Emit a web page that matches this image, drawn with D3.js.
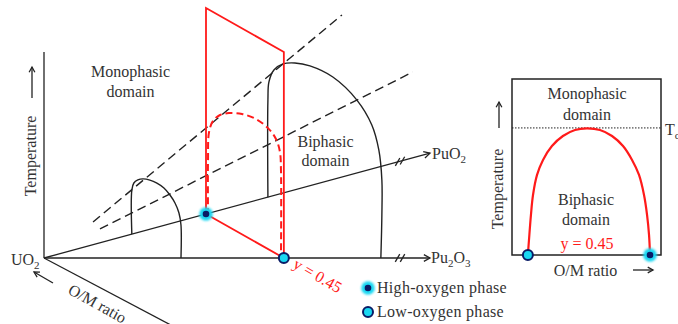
<!DOCTYPE html>
<html><head><meta charset="utf-8">
<script src="https://cdn.jsdelivr.net/npm/d3@7"></script>
<style>
html,body{margin:0;padding:0;background:#fff;}
svg{display:block;}
text{font-family:"Liberation Serif","Times New Roman",serif;fill:#333;}
</style>
</head><body>
<svg id="chart" width="678" height="324"></svg>
<script>
// ---- data ----
// Pu content of the isopleth section
const sectionY = 0.45;
// Pu content where each miscibility gap meets the Pu2O3 edge and the PuO2 edge
const gapSmallFeet = [0.257, 0.244];
const gapLargeFeet = [0.632, 0.622];
const gapSectionFeet = [sectionY, sectionY];
// gap outlines: [w, t]  (w: 0 on Pu2O3 edge, 1 on PuO2 edge; t: relative temperature 0..100)
const gapSmall = [[1,0],[1,21.4],[0.959,25.3],[0.878,27.7],[0.776,29.4],[0.633,30.5],[0.49,30.7],
  [0.347,30.0],[0.224,28.0],[0.122,25.3],[0.041,21.4],[0,16.0],[0,0]];
const gapLarge = [[1,0],[1,47.2],[0.991,56.2],[0.947,63.3],[0.867,68.6],[0.761,72.2],[0.628,74.7],
  [0.425,75.3],[0.212,70.4],[0.08,62.2],[0.018,51.9],[-0.009,38.1],[-0.009,21.1],[0,0]];
const gapSection = [[0.974,0],[0.974,26.7],[0.961,40.6],[0.91,47.1],[0.82,51.9],[0.705,55.3],
  [0.538,58.4],[0.358,59.8],[0.204,58.7],[0.101,55.6],[0.05,50.4],[0.037,41.9],[0.037,0]];
// critical-temperature guide lines: [u, t] on the Pu2O3 edge
const guideUpper = [[0.092,17.5],[0.559,118.0]];
const guideLower = [[0.105,14.1],[0.692,90.3]];
// section plane extends over the full temperature range
const sectionTop = 100;
// 2D section at y = 0.45: [O/M position, t]
const sectionGap = [[0,0],[0.009,8.5],[0.025,22.7],[0.042,34.1],[0.075,45.5],[0.124,54.0],[0.197,61.9],
  [0.287,67.6],[0.386,71.0],[0.484,71.9],[0.59,71.0],[0.689,67.6],[0.779,61.9],[0.853,54.0],
  [0.91,45.5],[0.951,34.1],[0.976,22.7],[0.992,11.4],[1,0]];
const criticalT = 72.2;
const legendItems = ["High-oxygen phase","Low-oxygen phase"];

// ---- style ----
const INK = "#222", RED = "#ff1a1a", CYAN = "#1ad8f2", NAVY = "#0a1c66";
const svg = d3.select("#chart");
const defs = svg.append("defs");
defs.append("filter").attr("id", "glow").attr("x", "-50%").attr("y", "-50%").attr("width", "200%").attr("height", "200%")
  .append("feGaussianBlur").attr("stdDeviation", 0.8);

// ---- prism projection ----
const origin = [44, 258];
const lowX = d3.scaleLinear().domain([0, 1]).range([44, 577]);     // UO2 -> Pu2O3 edge
const highX = d3.scaleLinear().domain([0, 1]).range([44, 404]);    // UO2 -> PuO2 edge
const highY = d3.scaleLinear().domain([0, 1]).range([258, 160.2]);
const tempH = d3.scaleLinear().domain([0, 100]).range([0, 206]);
const onLow = u => [lowX(u), origin[1]];
const onHigh = u => [highX(u), highY(u)];
function pt(uL, uH, w, t) {
  const a = onLow(uL), b = onHigh(uH);
  return [a[0] + (b[0] - a[0]) * w, a[1] + (b[1] - a[1]) * w - tempH(t)];
}
const smooth = d3.line().curve(d3.curveCatmullRom.alpha(0.5));

function arrow(g, x1, y1, x2, y2, head = 6, color = INK, sw = 1.3) {
  g.append("line").attr("x1", x1).attr("y1", y1).attr("x2", x2).attr("y2", y2)
    .attr("stroke", color).attr("stroke-width", sw);
  const a = Math.atan2(y2 - y1, x2 - x1), s = 0.5;
  const p1 = [x2 - head * Math.cos(a - s), y2 - head * Math.sin(a - s)];
  const p2 = [x2 - head * Math.cos(a + s), y2 - head * Math.sin(a + s)];
  g.append("path").attr("d", `M${p1}L${x2},${y2}L${p2}`).attr("fill", "none")
    .attr("stroke", color).attr("stroke-width", sw);
}
function breakMark(g, p, ang) {
  [-2.5, 2.5].forEach(o => {
    const cx = p[0] + o * Math.cos(ang), cy = p[1] + o * Math.sin(ang);
    const d = 60 * Math.PI / 180, L = 4.5;
    g.append("line").attr("x1", cx - L * Math.cos(d)).attr("y1", cy + L * Math.sin(d))
      .attr("x2", cx + L * Math.cos(d)).attr("y2", cy - L * Math.sin(d))
      .attr("stroke", INK).attr("stroke-width", 1.3);
  });
}

const g3 = svg.append("g");

// temperature axis
g3.append("line").attr("x1", origin[0]).attr("y1", origin[1])
  .attr("x2", origin[0]).attr("y2", origin[1] - tempH(100)).attr("stroke", INK).attr("stroke-width", 1.3);
// composition edges
const tipHigh = onHigh(highX.invert(430)), tipLow = onLow(lowX.invert(430));
arrow(g3, origin[0], origin[1], tipHigh[0], tipHigh[1], 7);
arrow(g3, origin[0], origin[1], tipLow[0], tipLow[1], 7);
breakMark(g3, onHigh(highX.invert(400)), Math.atan2(tipHigh[1] - origin[1], tipHigh[0] - origin[0]));
breakMark(g3, onLow(lowX.invert(400)), 0);
// O/M ratio direction
g3.append("line").attr("x1", origin[0]).attr("y1", origin[1])
  .attr("x2", origin[0] + 123 * 1.05).attr("y2", origin[1] + 65 * 1.05).attr("stroke", INK).attr("stroke-width", 1.3);
arrow(g3, 53, 283, 34, 272, 6);

// miscibility gaps
[[gapSmall, gapSmallFeet], [gapLarge, gapLargeFeet]].forEach(([pts, f]) => {
  g3.append("path").attr("d", smooth(pts.map(d => pt(f[0], f[1], d[0], d[1]))))
    .attr("fill", "none").attr("stroke", INK).attr("stroke-width", 1.4);
});
// guide lines
[guideUpper, guideLower].forEach(l => {
  g3.append("path").attr("d", d3.line()(l.map(d => pt(d[0], d[0], 0, d[1]))))
    .attr("fill", "none").attr("stroke", INK).attr("stroke-width", 1.4).attr("stroke-dasharray", "9,5");
});
// section plane at y = 0.45
const plane = [[0, 0], [1, 0], [1, sectionTop], [0, sectionTop]].map(d => pt(sectionY, sectionY, d[0], d[1]));
g3.append("path").attr("d", d3.line()(plane) + "Z").attr("fill", "none").attr("stroke", RED).attr("stroke-width", 1.8);
g3.append("path").attr("d", smooth(gapSection.map(d => pt(gapSectionFeet[0], gapSectionFeet[1], d[0], d[1]))))
  .attr("fill", "none").attr("stroke", RED).attr("stroke-width", 2).attr("stroke-dasharray", "7,4");

// phase markers
function highDot(g, x, y) {
  g.append("circle").attr("cx", x).attr("cy", y).attr("r", 6.8).attr("fill", CYAN).attr("filter", "url(#glow)");
  g.append("circle").attr("cx", x).attr("cy", y).attr("r", 3.3).attr("fill", NAVY);
}
function lowDot(g, x, y) {
  g.append("circle").attr("cx", x).attr("cy", y).attr("r", 5).attr("fill", CYAN)
    .attr("stroke", NAVY).attr("stroke-width", 2);
}
const hp = onHigh(sectionY), lp = onLow(sectionY);
highDot(g3, hp[0], hp[1]);
lowDot(g3, lp[0], lp[1]);

// labels
function label(g, x, y, txt, opts = {}) {
  const t = g.append("text").attr("x", x).attr("y", y).attr("font-size", opts.size || 16)
    .attr("text-anchor", opts.anchor || "start").text(txt);
  if (opts.color) t.style("fill", opts.color);
  if (opts.spacing) t.attr("letter-spacing", opts.spacing);
  if (opts.rotate !== undefined) t.attr("transform", `rotate(${opts.rotate},${x},${y})`);
  return t;
}
function chem(g, x, y, parts, subs) {
  const t = g.append("text").attr("x", x).attr("y", y).attr("font-size", 16);
  let shift = 0;
  parts.forEach((p, i) => {
    const sub = subs ? subs[i] : /^\d$/.test(p);
    const dy = sub ? 4 - shift : -shift;
    shift = sub ? 4 : 0;
    t.append("tspan").attr("dy", dy).attr("font-size", sub ? 11 : 16).text(p);
  });
  return t;
}
label(g3, 130.5, 77, "Monophasic", {anchor: "middle"});
label(g3, 130.5, 97, "domain", {anchor: "middle"});
label(g3, 325.5, 147, "Biphasic", {anchor: "middle"});
label(g3, 325.5, 166, "domain", {anchor: "middle"});
label(g3, 36, 156, "Temperature", {anchor: "middle", rotate: -90});
arrow(g3, 32, 98, 32, 67, 6);
chem(g3, 432, 159, ["PuO", "2"]);
chem(g3, 431, 263, ["Pu", "2", "O", "3"]);
chem(g3, 11, 265, ["UO", "2"]);
label(g3, 67, 293, "O/M ratio", {rotate: 29});
label(g3, 292, 267, "y = 0.45", {rotate: 30, color: RED});

// legend
legendItems.forEach((name, i) => {
  const y = 288 + i * 24;
  if (i === 0) highDot(svg, 368, y); else lowDot(svg, 368, y);
  label(svg, 377, y + 5, name, {spacing: 0.3});
});

// ---- 2D section ----
const gp = svg.append("g");
const px = d3.scaleLinear().domain([-0.13, 1.09]).range([512, 661]);
const pt2 = d3.scaleLinear().domain([0, 100]).range([255, 79]);
gp.append("rect").attr("x", px(-0.13)).attr("y", pt2(100)).attr("width", px(1.09) - px(-0.13))
  .attr("height", pt2(0) - pt2(100)).attr("fill", "none").attr("stroke", INK).attr("stroke-width", 1.5);
gp.append("line").attr("x1", px(-0.13)).attr("x2", px(1.09)).attr("y1", pt2(criticalT)).attr("y2", pt2(criticalT))
  .attr("stroke", INK).attr("stroke-width", 1).attr("stroke-dasharray", "1.5,1.5");
gp.append("path").attr("d", smooth(sectionGap.map(d => [px(d[0]), pt2(d[1])])))
  .attr("fill", "none").attr("stroke", RED).attr("stroke-width", 2.2);
lowDot(gp, px(0), pt2(0));
highDot(gp, px(1), pt2(0));
label(gp, 587, 99, "Monophasic", {anchor: "middle"});
label(gp, 587, 120, "domain", {anchor: "middle"});
label(gp, 586, 205, "Biphasic", {anchor: "middle"});
label(gp, 586, 225, "domain", {anchor: "middle"});
label(gp, 587, 249, "y = 0.45", {anchor: "middle", color: RED});
label(gp, 585.5, 276, "O/M ratio", {anchor: "middle"});
arrow(gp, 633, 270, 653, 270, 6);
label(gp, 503, 189, "Temperature", {anchor: "middle", rotate: -90});
arrow(gp, 499, 128, 499, 102, 6);
chem(gp, 665, 135, ["T", "c"], [false, true]);
</script>
</body></html>
